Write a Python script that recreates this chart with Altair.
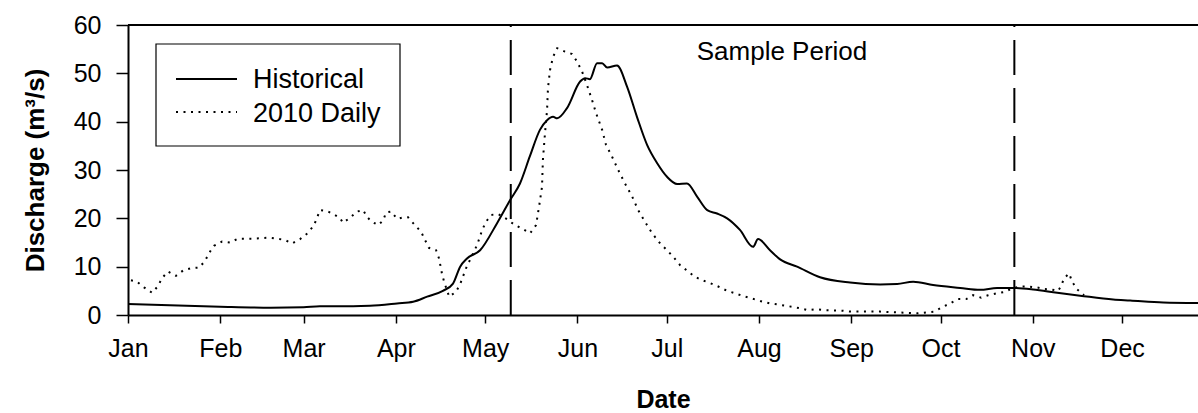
import altair as alt
import pandas as pd

# Long-term mean daily discharge (day of year, m3/s)
hist_day = [0, 14, 31, 48, 59, 64.5, 75.6, 81.3, 90.4, 95.8,
            100.5, 105.8, 109.2, 111.6, 113.9, 118.3, 124, 128.4, 131.7, 135,
            138.4, 140.8, 142.8, 144.2, 147.5, 151.9, 153.6, 155.2, 157.6, 159.3,
            161, 164.3, 167.7, 171, 174.4, 177.8, 181.1, 184.5, 187.8, 191.2,
            194.6, 197.9, 201.3, 205.6, 210, 211.7, 215.7, 219.1, 224.8, 232.5,
            242.6, 252.7, 258.4, 263.8, 270.5, 279.6, 286.3, 292, 297.4, 304.1,
            312.2, 319.9, 331, 336.7, 347.8, 359.5]
hist_q = [2.3, 2.0, 1.7, 1.5, 1.6, 1.8, 1.8, 1.9, 2.4, 2.75,
          3.8, 5.0, 6.5, 10, 11.7, 13.4, 19, 23.8, 27.2, 32.8,
          38.3, 40.3, 41, 40.7, 42.8, 48.3, 49, 48.8, 52.1, 52.1,
          51.2, 51.6, 47.2, 41, 35.2, 31.4, 28.6, 27.1, 27.2, 24.5,
          21.7, 21, 20, 17.6, 14.1, 15.7, 13.4, 11.5, 10, 7.8,
          6.7, 6.3, 6.4, 6.9, 6.2, 5.6, 5.2, 5.6, 5.6, 5.3,
          4.6, 4.0, 3.2, 3.0, 2.6, 2.5]

# 2010 daily discharge (day of year, m3/s)
daily_day = [1, 3.0, 5.4, 8.1, 10.1, 11.4, 13.4, 16.1, 18.5, 21.2, 23.9,
             25.9, 27.2, 28.9, 31.6, 34.3, 37.0, 42.0, 47.4, 50.1, 52.8,
             55.1, 57.8, 60.5, 62.5, 63.5, 64.5, 66.9, 68.9, 71.2, 72.2,
             74.6, 76.9, 79.0, 80.3, 81.7, 84.0, 85.7, 86.7, 88.4, 90.4,
             92.4, 94.1, 96.4, 98.5, 99.8, 101.1, 103.5, 104.5, 105.5, 106.2,
             107.9, 110.2, 111.6, 113.6, 114.9, 117.3, 119.0, 120.3, 122.0, 124.3,
             127.4, 130.0, 132.4, 135.1, 137.1, 138.1, 139.1, 139.4, 140.1, 140.8,
             141.1, 141.8, 142.8, 144.2, 146.8, 149.2, 150.9, 152.6, 154.2, 155.9,
             157.3, 159.3, 160.6, 162.6, 164.7, 167.0, 169.4, 171.4, 173.7, 176.1,
             178.8, 181.1, 183.1, 185.5, 188.2, 190.5, 192.9, 195.6, 198.3, 201.3,
             204.0, 206.7, 209.7, 212.4, 215.7, 219.1, 223.1, 225.8, 228.5, 231.5,
             234.2, 239.9, 242.6, 252.7, 258.4, 265.5, 270.8, 273.5, 276.2, 278.9,
             281.6, 283.9, 286.6, 289.0, 292.0, 294.7, 297.0, 299.7, 302.4, 305.4,
             307.5, 310.1, 312.5, 313.5, 314.5, 316.2, 317.2, 318.9, 321.2]
daily_q = [7.2, 6.9, 5.7, 4.6, 6.0, 7.6, 9.0, 8.1, 9.2, 9.7, 9.8,
           11.2, 12.8, 14.3, 15.2, 15.0, 15.8, 15.8, 16.0, 15.8, 15.5,
           14.8, 15.7, 17.0, 18.6, 20.1, 21.7, 21.5, 20.9, 20.1, 19.1,
           20.1, 21.4, 21.7, 20.3, 19.4, 18.6, 19.5, 21.2, 21.4, 19.9,
           20.2, 20.2, 18.6, 17.2, 15.5, 13.9, 13.4, 11.7, 8.5, 6.9,
           3.8, 4.8, 6.4, 9.7, 11.4, 14.5, 17.6, 19.3, 20.7, 20.9,
           19.8, 18.6, 17.9, 16.9, 18.6, 22.4, 26.5, 32.1, 37.6, 42.4,
           46.9, 50.7, 53.4, 55.2, 54.5, 54.0, 52.4, 50.3, 47.6, 44.5,
           41.7, 38.3, 35.2, 32.8, 30.0, 27.2, 24.5, 21.7, 19.3, 16.9,
           14.8, 13.4, 12.1, 10.3, 9.0, 7.9, 7.2, 6.6, 5.9, 5.0,
           4.5, 3.9, 3.4, 2.9, 2.4, 2.1, 1.7, 1.4, 1.0, 1.2,
           1.0, 0.9, 0.7, 0.7, 0.55, 0.35, 0.7, 1.6, 2.4, 3.3,
           3.3, 4.1, 3.6, 4.1, 4.5, 4.8, 5.5, 5.9, 5.9, 5.7,
           5.4, 5.3, 5.0, 6.0, 7.6, 8.6, 6.9, 5.3, 4.1]

month_starts = [0, 31, 59, 90, 120, 151, 181, 212, 243, 273, 304, 334]
month_names = ["Jan", "Feb", "Mar", "Apr", "May", "Jun",
               "Jul", "Aug", "Sep", "Oct", "Nov", "Dec"]
y_ticks = [0, 10, 20, 30, 40, 50, 60]

# start and end of the sampling window (day of year)
sample_bounds = [128.6, 297.8]

series_names = ["Historical", "2010 Daily"]

W, H = 1070, 290
FONT = "Liberation Sans"

x_scale = alt.Scale(domain=[0, 359.5], nice=False, zero=False)
y_scale = alt.Scale(domain=[0, 60], nice=False, zero=True)

hist_df = pd.DataFrame({"day": hist_day, "q": hist_q})
daily_df = pd.DataFrame({"day": daily_day, "q": daily_q})
bounds_df = pd.DataFrame({"day": sample_bounds})

label_expr = ("[" + ",".join(f"'{m}'" for m in month_names) + "][indexof(["
              + ",".join(str(d) for d in month_starts) + "], datum.value)]")

x_axis = alt.Axis(values=month_starts, labelExpr=label_expr, title="Date",
                  tickSize=8, labelPadding=13, labelFlush=False,
                  titleX=W / 2, titleY=92,
                  titleAlign="center", titleBaseline="alphabetic")
y_axis = alt.Axis(values=y_ticks, title="Discharge (m³/s)", tickSize=12,
                  labelPadding=15, titleX=-85, titleY=H / 2, titleAngle=270,
                  titleFontSize=26, titleAlign="center",
                  titleBaseline="alphabetic")

bounds = alt.Chart(bounds_df).mark_rule(
    color="black", strokeWidth=2, strokeDash=[35, 13]
).encode(
    x=alt.X("day:Q", scale=x_scale, axis=x_axis),
    y=alt.Y(datum=0, scale=y_scale, axis=y_axis),
    y2=alt.Y2(datum=60),
)

daily = alt.Chart(daily_df).mark_line(
    color="black", strokeWidth=2, strokeDash=[2, 5.5]
).encode(
    x=alt.X("day:Q", scale=x_scale, axis=x_axis),
    y=alt.Y("q:Q", scale=y_scale, axis=y_axis),
)

historical = alt.Chart(hist_df).mark_line(
    color="black", strokeWidth=2, interpolate="monotone"
).encode(
    x=alt.X("day:Q", scale=x_scale, axis=x_axis),
    y=alt.Y("q:Q", scale=y_scale, axis=y_axis),
)

one = alt.Data(values=[{}])

top_border = alt.Chart(one).mark_rule(color="black", strokeWidth=2).encode(
    x=alt.value(0), x2=alt.value(W), y=alt.value(0)
)

sample_label = alt.Chart(one).mark_text(
    text="Sample Period", font=FONT, fontSize=26, color="black",
    align="center", baseline="alphabetic"
).encode(x=alt.value(654), y=alt.value(35))

# legend box
legend_box = alt.Chart(one).mark_rect(
    fill="white", stroke="black", strokeWidth=1.2
).encode(x=alt.value(28), x2=alt.value(272), y=alt.value(19), y2=alt.value(121))

legend_solid = alt.Chart(one).mark_rule(color="black", strokeWidth=2).encode(
    x=alt.value(48), x2=alt.value(109), y=alt.value(54)
)
legend_dotted = alt.Chart(one).mark_rule(
    color="black", strokeWidth=2, strokeDash=[2, 5.5]
).encode(x=alt.value(48), x2=alt.value(109), y=alt.value(87))

legend_text1 = alt.Chart(one).mark_text(
    text=series_names[0], font=FONT, fontSize=27, color="black",
    align="left", baseline="alphabetic"
).encode(x=alt.value(125), y=alt.value(63))
legend_text2 = alt.Chart(one).mark_text(
    text=series_names[1], font=FONT, fontSize=27, color="black",
    align="left", baseline="alphabetic"
).encode(x=alt.value(125), y=alt.value(97))

chart = alt.layer(
    bounds, daily, historical, top_border, sample_label,
    legend_box, legend_solid, legend_dotted, legend_text1, legend_text2,
).properties(
    width=W, height=H,
    padding={"left": 128, "top": 25, "right": 0, "bottom": 98},
    autosize=alt.AutoSizeParams(type="none"),
    background="white",
).configure_view(
    stroke=None
).configure_axis(
    grid=False,
    domainColor="black", domainWidth=2,
    tickColor="black", tickWidth=1.5,
    labelColor="black", labelFont=FONT, labelFontSize=25,
    titleColor="black", titleFont=FONT, titleFontSize=25, titleFontWeight="bold",
)

chart.save("out.html", embed_options={"renderer": "svg", "actions": False})
